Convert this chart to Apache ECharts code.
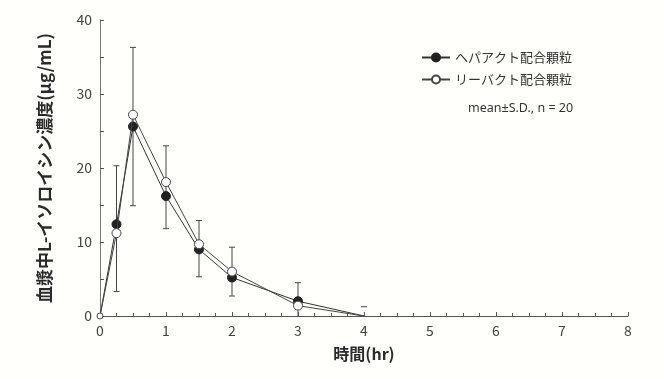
<!DOCTYPE html>
<html><head><meta charset="utf-8">
<script src="https://cdn.jsdelivr.net/npm/echarts@6/dist/echarts.min.js"></script>
<style>html,body{margin:0;padding:0;background:#fffffb;}#c{width:664px;height:379px;}</style>
</head><body><div id="c"></div>
<script>
const times = [0, 0.25, 0.5, 1, 1.5, 2, 3, 4];
const hepact = [0, 12.4, 25.6, 16.2, 9.0, 5.2, 2.0, 0];
const livact = [0, 11.2, 27.2, 18.1, 9.7, 6.0, 1.4, 0];
const errLow = [null, 3.3, 14.9, 11.8, 5.3, 2.7, 0, null];
const errHigh = [null, 20.3, 36.3, 23.0, 12.9, 9.3, 4.5, 1.25];
const xTicks = [0,1,2,3,4,5,6,7,8];
const yTicks = [0,10,20,30,40];
const seriesNames = ['ヘパアクト配合顆粒', 'リーバクト配合顆粒'];
const note = 'mean±S.D., n = 20';

const errData = [];
times.forEach((t,i)=>{ if(errHigh[i]!==null) errData.push([t, errLow[i]===null?errHigh[i]:errLow[i], errHigh[i], errLow[i]===null?0:1]); });

const font = '"Noto Sans CJK JP", "Noto Sans", sans-serif';
const chart = echarts.init(document.getElementById('c'));
chart.setOption({
  backgroundColor: '#fffffb',
  animation: false,
  grid: {left: 100, right: 36, top: 20, bottom: 63},
  xAxis: {
    type: 'value', min: 0, max: 8, interval: 1,
    name: '時間(hr)', nameLocation: 'middle', nameGap: 30,
    nameTextStyle: {fontFamily: font, fontSize: 16, fontWeight: 'bold', color: '#2a2a2a'},
    axisLine: {lineStyle: {color: '#555', width: 1}},
    axisTick: {inside: true, length: 4, lineStyle: {color: '#555'}},
    minorTick: {show: true, splitNumber: 4, length: 3, lineStyle: {color: '#555'}},
    axisLabel: {fontFamily: font, fontSize: 14, color: '#444', margin: 8,
      formatter: v => xTicks.includes(v) ? String(v) : ''},
    splitLine: {show: false}
  },
  yAxis: {
    type: 'value', min: 0, max: 40, interval: 10,
    name: '血漿中L-イソロイシン濃度(μg/mL)', nameLocation: 'middle', nameGap: 47,
    nameTextStyle: {fontFamily: font, fontSize: 17, fontWeight: 'bold', color: '#2a2a2a'},
    axisLine: {show: true, lineStyle: {color: '#777', width: 1}},
    axisTick: {inside: true, length: 4, lineStyle: {color: '#555'}},
    minorTick: {show: true, splitNumber: 2, length: 4, lineStyle: {color: '#555'}},
    axisLabel: {fontFamily: font, fontSize: 14, color: '#444', margin: 8,
      formatter: v => yTicks.includes(v) ? String(v) : ''},
    splitLine: {show: false}
  },
  legend: {
    orient: 'vertical', left: 416, top: 46, itemGap: 9, itemWidth: 28, itemHeight: 10,
    textStyle: {fontFamily: font, fontSize: 13, color: '#333'},
    data: seriesNames
  },
  graphic: [{type: 'text', left: 468, top: 102,
    style: {text: note, font: '12.5px "Noto Sans", sans-serif', fill: '#333'}}],
  series: [
    {type: 'custom', name: 'err', silent: true, z: 1,
     renderItem: function(params, api){
       const x = api.value(0), lo = api.value(1), hi = api.value(2);
       const pHi = api.coord([x, hi]), pLo = api.coord([x, lo]);
       const w = 3;
       const st = {stroke: '#444', lineWidth: 1};
       const ch = [
         {type: 'line', shape: {x1: pHi[0], y1: pHi[1], x2: pLo[0], y2: pLo[1]}, style: st},
         {type: 'line', shape: {x1: pHi[0]-w, y1: pHi[1], x2: pHi[0]+w, y2: pHi[1]}, style: st}
       ];
       if (api.value(3) === 1 && lo > 0) ch.push({type: 'line', shape: {x1: pLo[0]-w, y1: pLo[1], x2: pLo[0]+w, y2: pLo[1]}, style: st});
       return {type: 'group', children: ch};
     },
     encode: {x: 0, y: [1,2]},
     data: errData},
    {type: 'line', name: seriesNames[0], z: 3,
     data: times.map((t,i)=>[t, hepact[i]]),
     symbol: 'circle', showAllSymbol: true,
     lineStyle: {color: '#333', width: 1},
     itemStyle: {color: '#222', borderColor: '#222', borderWidth: 1},
     symbolSize: (v, p) => (p.dataIndex === 0 || p.dataIndex === 7) ? 0 : 9
    },
    {type: 'line', name: seriesNames[1], z: 4,
     data: times.map((t,i)=>[t, livact[i]]),
     symbol: 'circle', showAllSymbol: true,
     symbolSize: (v, p) => p.dataIndex === 7 ? 0 : (p.dataIndex === 0 ? 6 : 9),
     lineStyle: {color: '#444', width: 1},
     itemStyle: {color: '#fff', borderColor: '#444', borderWidth: 1}
    }
  ]
});
</script></body></html>
